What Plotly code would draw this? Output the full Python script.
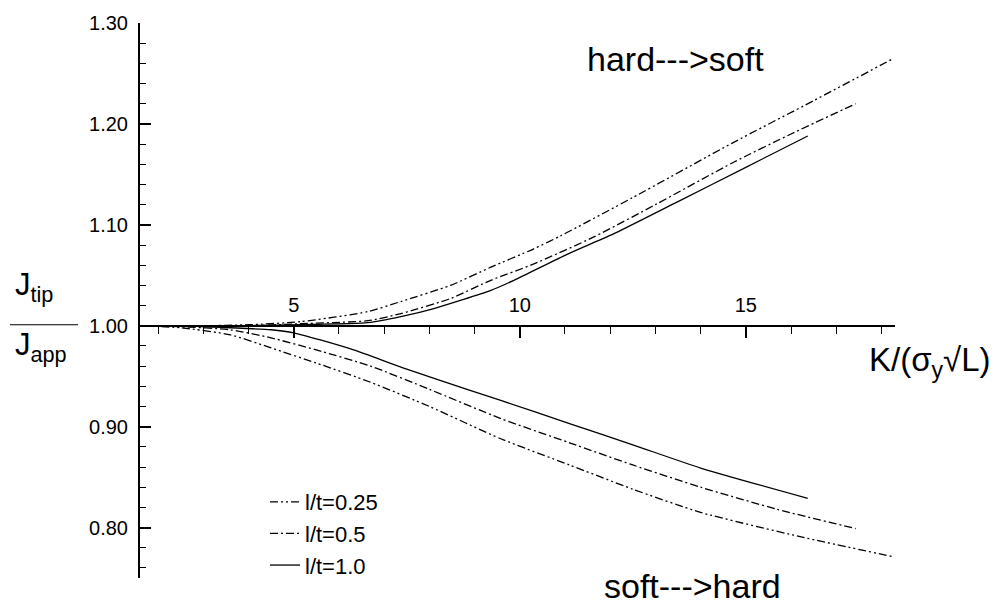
import plotly.graph_objects as go

# ---- data ----
# hard ---> soft branch
u025_x = [1.6, 3.0, 4.0, 5.15, 6.64, 7.37, 8.47, 9.36, 10.3, 10.9, 12.5, 14.7, 16.5, 18.27]
u025_y = [1.000, 1.000, 1.001, 1.004, 1.014, 1.024, 1.040, 1.058, 1.076, 1.089, 1.127, 1.181, 1.223, 1.265]
u05_x = [1.6, 3.0, 4.0, 5.15, 6.64, 7.37, 8.47, 9.36, 10.3, 11.64, 13.0, 14.73, 16.0, 17.43]
u05_y = [1.000, 1.000, 1.000, 1.002, 1.005, 1.012, 1.027, 1.045, 1.061, 1.088, 1.120, 1.162, 1.190, 1.220]
u10_x = [1.6, 3.0, 4.0, 5.15, 6.64, 7.37, 8.1, 9.36, 9.87, 11.06, 12.12, 13.5, 15.0, 16.37]
u10_y = [1.000, 1.000, 1.000, 1.001, 1.003, 1.009, 1.017, 1.035, 1.045, 1.071, 1.092, 1.123, 1.157, 1.188]
# soft ---> hard branch
l025_x = [1.6, 2.5, 3.6, 4.5, 5.5, 6.7, 8.0, 9.58, 11.1, 12.5, 14.0, 16.2, 18.27]
l025_y = [1.000, 0.998, 0.991, 0.978, 0.963, 0.944, 0.920, 0.888, 0.862, 0.838, 0.815, 0.791, 0.771]
l05_x = [1.6, 2.5, 3.6, 4.5, 5.5, 6.7, 8.0, 9.58, 11.1, 12.5, 14.0, 15.7, 17.43]
l05_y = [1.000, 0.999, 0.996, 0.988, 0.976, 0.960, 0.937, 0.908, 0.884, 0.862, 0.840, 0.818, 0.799]
l10_x = [1.6, 2.5, 3.6, 4.5, 5.0, 6.26, 7.5, 8.9, 9.58, 11.1, 12.5, 14.0, 16.37]
l10_y = [1.000, 1.000, 0.998, 0.996, 0.993, 0.977, 0.957, 0.936, 0.926, 0.903, 0.882, 0.859, 0.829]

series_names = ["l/t=0.25", "l/t=0.5", "l/t=1.0"]
x_ticks = [5, 10, 15]
y_ticks = [0.80, 0.90, 1.00, 1.10, 1.20, 1.30]
x_range = [1.6, 18.3]
y_range = [0.75, 1.30]

FONT = "Liberation Sans, Arial, Helvetica, sans-serif"
dashes = ["8px,3px,2px,3px,2px,3px", "8px,3px,2px,3px", "solid"]

fig = go.Figure()
upper = [(u025_x, u025_y), (u05_x, u05_y), (u10_x, u10_y)]
lower = [(l025_x, l025_y), (l05_x, l05_y), (l10_x, l10_y)]
for i, name in enumerate(series_names):
    fig.add_trace(go.Scatter(x=upper[i][0], y=upper[i][1], mode="lines", name=name,
                             legendgroup=name, showlegend=True,
                             line=dict(color="black", width=1.3, dash=dashes[i],
                                       shape="spline", smoothing=0.6)))
    fig.add_trace(go.Scatter(x=lower[i][0], y=lower[i][1], mode="lines", name=name,
                             legendgroup=name, showlegend=False,
                             line=dict(color="black", width=1.3, dash=dashes[i],
                                       shape="spline", smoothing=0.6)))

L, R, T, B = 140, 103, 17, 28
W, H = 998, 606
PW, PH = W - L - R, H - T - B


def px(xp):
    return (xp - L) / PW


def py(yp):
    return (H - B - yp) / PH


fig.update_layout(
    width=W, height=H,
    margin=dict(l=L, r=R, t=T, b=B),
    paper_bgcolor="white", plot_bgcolor="white",
    font=dict(family=FONT, color="black", size=20),
    showlegend=True,
    legend=dict(x=px(265), y=py(480), xanchor="left", yanchor="top",
                font=dict(size=22), bgcolor="rgba(0,0,0,0)",
                tracegroupgap=4, traceorder="normal"),
    xaxis=dict(range=x_range, anchor="free",
               position=(1.0 - y_range[0]) / (y_range[1] - y_range[0]),
               side="top", showline=True, linecolor="black", linewidth=2,
               ticks="inside", ticklen=11, tickwidth=1.5, tickcolor="black",
               tickvals=x_ticks, ticktext=[str(v) for v in x_ticks],
               tickfont=dict(size=20), ticklabelstandoff=5,
               minor=dict(dtick=1, tick0=0, ticks="inside", ticklen=7,
                          tickwidth=1.2, tickcolor="black"),
               showgrid=False, zeroline=False),
    yaxis=dict(range=y_range, showline=True, linecolor="black", linewidth=2,
               ticks="inside", ticklen=11, tickwidth=1.5, tickcolor="black",
               tickvals=y_ticks, tickformat=".2f", tickfont=dict(size=20),
               ticklabelstandoff=6,
               minor=dict(dtick=0.02, tick0=0, ticks="inside", ticklen=6,
                          tickwidth=1.2, tickcolor="black"),
               showgrid=False, zeroline=False),
)

ann = [
    dict(text="hard--->soft", x=px(675), y=py(53), size=34),
    dict(text="soft--->hard", x=px(692), y=py(586), size=34),
    dict(text="K/(σ<sub>y</sub>√L)", x=px(930), y=py(360), size=33),
]
for a in ann:
    fig.add_annotation(text=a["text"], x=a["x"], y=a["y"], xref="paper", yref="paper",
                       xanchor="center", yanchor="middle", showarrow=False,
                       font=dict(size=a["size"], family=FONT, color="black"))

fig.add_annotation(text="J<sub>tip</sub>", x=px(13), y=py(284), xref="paper", yref="paper",
                   xanchor="left", yanchor="middle", showarrow=False,
                   font=dict(size=31, family=FONT, color="black"))
fig.add_annotation(text="J<sub>app</sub>", x=px(13), y=py(345), xref="paper", yref="paper",
                   xanchor="left", yanchor="middle", showarrow=False,
                   font=dict(size=31, family=FONT, color="black"))
fig.add_shape(type="line", xref="paper", yref="paper",
              x0=px(10), x1=px(78), y0=py(322), y1=py(322),
              line=dict(color="black", width=1.2))

fig.write_html("out.html")
